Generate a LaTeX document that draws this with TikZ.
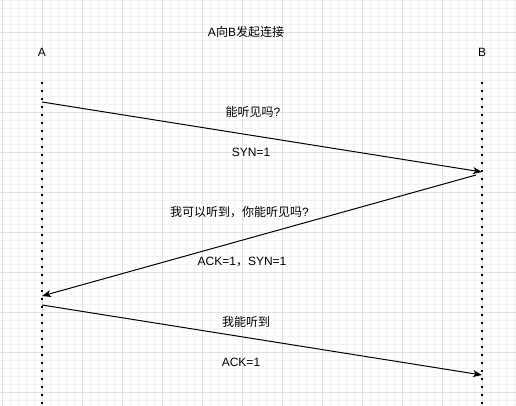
\documentclass[tikz,border=0pt]{standalone}
\usepackage{fontspec}
\setmainfont{Liberation Sans}
\newfontfamily\cjk{Noto Sans CJK SC}
\usetikzlibrary{arrows.meta}

\begin{document}
\begin{tikzpicture}[x=1pt,y=-1pt,
    minorgrid/.style={draw=black!5, line width=0.6pt},
    majorgrid/.style={draw=black!12, line width=0.7pt},
    lifeline/.style={line width=2pt, dash pattern=on 2pt off 6pt},
    msg/.style={line width=1pt, -{Stealth[length=9pt,width=7pt,inset=2.5pt]}},
    lbl/.style={font=\fontsize{12}{14}\selectfont, inner sep=0pt}]
    \useasboundingbox (0,0) rectangle (516,406);
    % Raster
    \foreach \x in {2,10,...,514} \path[minorgrid] (\x,0) -- (\x,406);
    \foreach \y in {0,8,...,400} \path[minorgrid] (0,\y) -- (516,\y);
    \foreach \x in {2,42,...,482} \path[majorgrid] (\x,0) -- (\x,406);
    \foreach \y in {32,72,...,392} \path[majorgrid] (0,\y) -- (516,\y);
    % Titel und Partner
    \node[lbl] (title) at (246,32) {A{\cjk 向}B{\cjk 发起连接}};
    \node[lbl] (nameA) at (42,52) {A};
    \node[lbl] (nameB) at (482,52) {B};
    % Lebenslinien
    \coordinate (Atop) at (42,82);
    \coordinate (Abot) at (42,406);
    \coordinate (Btop) at (482,82);
    \coordinate (Bbot) at (482,406);
    \draw[lifeline] (Atop) -- (Abot);
    \draw[lifeline] (Btop) -- (Bbot);
    % Nachrichten
    \coordinate (syn start) at (42,102);
    \coordinate (syn end) at (482,172);
    \coordinate (synack start) at (476,175);
    \coordinate (synack end) at (42,296);
    \coordinate (ack start) at (42,305);
    \coordinate (ack end) at (482,375);
    \draw[msg] (syn start) -- (syn end);
    \draw[msg] (synack start) -- (synack end);
    \draw[msg] (ack start) -- (ack end);
    % Beschriftungen
    \node[lbl] (q1) at (253,112) {{\cjk 能听见吗}?};
    \node[lbl] (f1) at (251,152) {SYN=1};
    \node[lbl] (q2) at (239.5,212) {{\cjk 我可以听到，你能听见吗}?};
    \node[lbl] (f2) at (242,262) {ACK=1{\cjk ，}SYN=1};
    \node[lbl] (q3) at (246,322) {\cjk 我能听到};
    \node[lbl] (f3) at (241,362) {ACK=1};
\end{tikzpicture}
\end{document}
